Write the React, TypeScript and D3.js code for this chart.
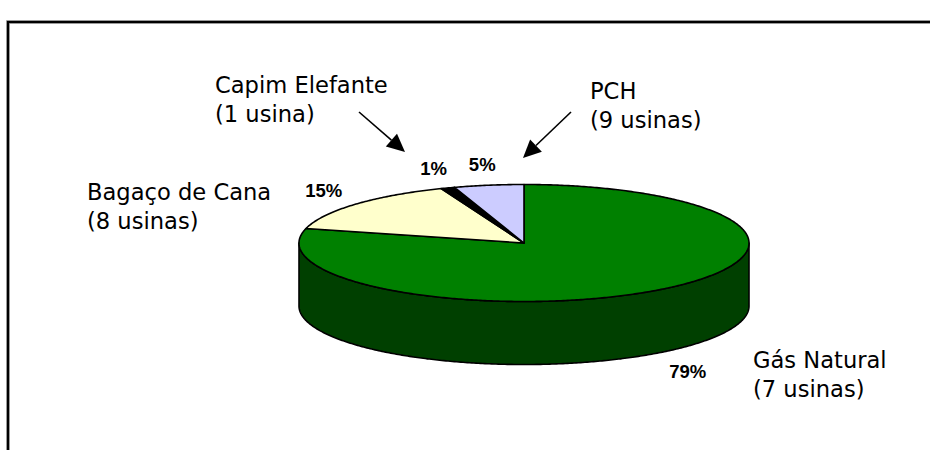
import React, { useEffect, useRef } from 'react';
import * as d3 from 'd3';

// data
const sources = ['Gás Natural', 'Bagaço de Cana', 'Capim Elefante', 'PCH'];
const plantCounts = ['(7 usinas)', '(8 usinas)', '(1 usina)', '(9 usinas)'];
const shares = [79, 15, 1, 5];

const topColors = ['#008000', '#FFFFCC', '#000000', '#CCCCFF'];
const sideColors = ['#004000', '#80806A', '#000000', '#666680'];

// hand placed text boxes, like in the original sheet
const calloutPos = [
  { x: 753, y: 368 },
  { x: 87, y: 200 },
  { x: 215, y: 93 },
  { x: 590, y: 99 },
];
const arrows = [
  { from: [359, 112], to: [405, 152] },
  { from: [571, 112], to: [523, 158] },
];

const W = 930;
const H = 450;

export default function App() {
  const ref = useRef<SVGSVGElement | null>(null);

  useEffect(() => {
    const svg = d3.select(ref.current);
    svg.selectAll('*').remove();

    const cx = 524;
    const cy = 243;
    const rx = 225;
    const ry = 58.5;
    const depth = 63;

    // frame (runs off the right and bottom edge in the original)
    svg.append('rect')
      .attr('x', 8).attr('y', 22)
      .attr('width', 1000).attr('height', 1000)
      .attr('fill', 'none')
      .attr('stroke', '#7a7a7a')
      .attr('stroke-width', 3.5);
    svg.append('rect')
      .attr('x', 8).attr('y', 22)
      .attr('width', 1000).attr('height', 1000)
      .attr('fill', 'none')
      .attr('stroke', '#000')
      .attr('stroke-width', 2);

    const pie = d3.pie<number>().value(d => d).sort(null);
    const slices = pie(shares);
    const total = d3.sum(shares);

    const pt = (a: number, dy = 0): [number, number] =>
      [cx + rx * Math.sin(a), cy - ry * Math.cos(a) + dy];

    const steps = (a0: number, a1: number) => {
      const n = Math.max(2, Math.ceil((a1 - a0) / 0.01));
      return d3.range(n + 1).map(i => a0 + (a1 - a0) * i / n);
    };

    const line = d3.line().curve(d3.curveLinear);

    const g = svg.append('g');

    // front walls
    slices.forEach((s, i) => {
      const a0 = Math.max(s.startAngle, Math.PI / 2);
      const a1 = Math.min(s.endAngle, Math.PI * 1.5);
      if (a1 <= a0) return;
      const angs = steps(a0, a1);
      const pts = angs.map(a => pt(a)).concat(angs.slice().reverse().map(a => pt(a, depth)));
      g.append('path')
        .attr('d', line(pts) + 'Z')
        .attr('fill', sideColors[i])
        .attr('stroke', '#000')
        .attr('stroke-width', 1.6)
        .attr('stroke-linejoin', 'round');
    });

    // top faces
    slices.forEach((s, i) => {
      const pts: [number, number][] = [[cx, cy], ...steps(s.startAngle, s.endAngle).map(a => pt(a))];
      g.append('path')
        .attr('d', line(pts) + 'Z')
        .attr('fill', topColors[i])
        .attr('stroke', '#000')
        .attr('stroke-width', 1.6)
        .attr('stroke-linejoin', 'round');
    });

    // percentage labels around the pie
    const lrx = 267;
    const lry = 80;
    slices.forEach((s, i) => {
      const mid = (s.startAngle + s.endAngle) / 2;
      const x = cx + lrx * Math.sin(mid);
      const y = cy - lry * Math.cos(mid) + (Math.cos(mid) < 0 ? depth + 2 : 0);
      svg.append('text')
        .attr('x', x)
        .attr('y', y + 7)
        .attr('text-anchor', 'middle')
        .attr('font-family', '"Liberation Sans", Arial, sans-serif')
        .attr('font-weight', 'bold')
        .attr('font-size', 18.5)
        .attr('fill', '#000')
        .text(Math.round(shares[i] / total * 100) + '%');
    });

    // category callouts
    sources.forEach((name, i) => {
      const t = svg.append('text')
        .attr('font-family', '"DejaVu Sans", Verdana, sans-serif')
        .attr('font-size', 22.6)
        .attr('fill', '#000');
      t.append('tspan').attr('x', calloutPos[i].x).attr('y', calloutPos[i].y).text(name);
      t.append('tspan').attr('x', calloutPos[i].x).attr('y', calloutPos[i].y + 28.5).text(plantCounts[i]);
    });

    // arrows
    arrows.forEach(a => {
      const [x0, y0] = a.from;
      const [x1, y1] = a.to;
      const ang = Math.atan2(y1 - y0, x1 - x0);
      const len = 18;
      const half = 8.5;
      const bx = x1 - len * Math.cos(ang);
      const by = y1 - len * Math.sin(ang);
      svg.append('line')
        .attr('x1', x0).attr('y1', y0)
        .attr('x2', bx).attr('y2', by)
        .attr('stroke', '#000')
        .attr('stroke-width', 1.6);
      const head: [number, number][] = [
        [x1, y1],
        [bx + half * Math.sin(ang), by - half * Math.cos(ang)],
        [bx - half * Math.sin(ang), by + half * Math.cos(ang)],
      ];
      svg.append('path')
        .attr('d', line(head) + 'Z')
        .attr('fill', '#000');
    });
  }, []);

  return (
    <svg
      ref={ref}
      width={W}
      height={H}
      style={{ position: 'absolute', left: 0, top: 0, background: '#fff' }}
    />
  );
}
